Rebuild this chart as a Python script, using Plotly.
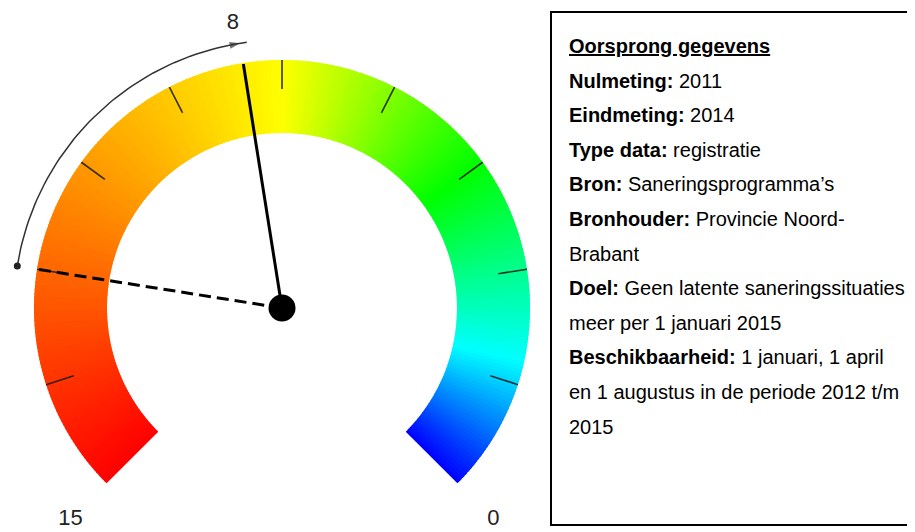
import numpy as np
import plotly.graph_objects as go
import colorsys

# ---------------- data ----------------
scale_min = 0
scale_max = 15
current_value = 8          # solid needle
start_value = 12           # dashed needle (nulmeting)
tick_values = [1.5, 3, 4.5, 6, 7.5, 9, 10.5, 12, 13.5]
end_labels = ["15", "0"]
end_label_values = [15, 0]
value_label = "8"

# colour stops along the scale (value -> hue in degrees)
color_stop_values = [0, 1.8, 4.5, 7.5, 15]
color_stop_hues = [240, 180, 120, 60, 0]

info_lines = [
    "<u><b>Oorsprong gegevens</b></u>",
    "<b>Nulmeting:</b> 2011",
    "<b>Eindmeting:</b> 2014",
    "<b>Type data:</b> registratie",
    "<b>Bron:</b> Saneringsprogramma\u2019s",
    "<b>Bronhouder:</b> Provincie Noord-",
    "Brabant",
    "<b>Doel:</b> Geen latente saneringssituaties",
    "meer per 1 januari 2015",
    "<b>Beschikbaarheid:</b> 1 januari, 1 april",
    "en 1 augustus in de periode 2012 t/m",
    "2015",
]

# ---------------- geometry / style ----------------
OFF = 8                    # page body margin
W, H = 915 - OFF, 532 - OFF
CX, CY = 282, 308          # gauge centre in reference pixels
R_OUT, R_IN = 248, 175
TICK_R0, TICK_R1 = 219, 248
ARROW_R = 268
START_ANGLE, END_ANGLE = 225, -45   # angle of scale_max and scale_min


def px(X):
    return (X - OFF) / W


def py(Y):
    return 1 - (Y - OFF) / H


def ang(v):
    return np.radians(END_ANGLE + (v - scale_min) / (scale_max - scale_min) * (START_ANGLE - END_ANGLE))


def pt(v, r):
    a = ang(v)
    return r * np.cos(a), r * np.sin(a)


def color_of(v):
    h = np.interp(v, color_stop_values, color_stop_hues) / 360.0
    r, g, b = colorsys.hsv_to_rgb(h, 1, 1)
    return "rgb(%d,%d,%d)" % (round(r * 255), round(g * 255), round(b * 255))


fig = go.Figure()
shapes = []

# gradient band
N = 300
step = (scale_max - scale_min) / N
for i in range(N):
    v0 = scale_min + i * step
    v1 = min(scale_max, v0 + step * 1.6)
    vm = v0 + step / 2
    xs, ys = [], []
    for v in np.linspace(v0, v1, 3):
        x, y = pt(v, R_OUT); xs.append(x); ys.append(y)
    for v in np.linspace(v1, v0, 3):
        x, y = pt(v, R_IN); xs.append(x); ys.append(y)
    path = "M " + " L ".join("%.3f,%.3f" % (a, b) for a, b in zip(xs, ys)) + " Z"
    shapes.append(dict(type="path", path=path, xref="x", yref="y",
                       fillcolor=color_of(vm), line=dict(width=0), layer="below"))

# ticks
tx, ty = [], []
for v in tick_values:
    x0, y0 = pt(v, TICK_R0); x1, y1 = pt(v, TICK_R1)
    tx += [x0, x1, None]; ty += [y0, y1, None]
fig.add_trace(go.Scatter(x=tx, y=ty, mode="lines",
                         line=dict(color="rgba(30,30,30,0.9)", width=1.6),
                         hoverinfo="skip", showlegend=False))

# dashed needle (start value)
x1, y1 = pt(start_value, R_OUT)
fig.add_trace(go.Scatter(x=[0, x1], y=[0, y1], mode="lines",
                         line=dict(color="black", width=3, dash="12px,6px"),
                         hoverinfo="skip", showlegend=False))

# solid needle (current value)
x1, y1 = pt(current_value, R_OUT - 1)
fig.add_trace(go.Scatter(x=[0, x1], y=[0, y1], mode="lines",
                         line=dict(color="black", width=3),
                         hoverinfo="skip", showlegend=False))

# hub
fig.add_trace(go.Scatter(x=[0], y=[0], mode="markers",
                         marker=dict(color="black", size=27),
                         hoverinfo="skip", showlegend=False))

# arrow arc from start to current value
vals = np.linspace(start_value, current_value - 0.08, 60)
ax_, ay_ = pt(vals, ARROW_R)
fig.add_trace(go.Scatter(x=ax_, y=ay_, mode="lines",
                         line=dict(color="#333333", width=1.5),
                         hoverinfo="skip", showlegend=False))
# start dot
sx, sy = pt(start_value, ARROW_R)
fig.add_trace(go.Scatter(x=[sx], y=[sy], mode="markers",
                         marker=dict(size=7, color="#222222"),
                         hoverinfo="skip", showlegend=False))
# arrow head
hv = [current_value + 0.25, current_value]
hx, hy = pt(np.array(hv), ARROW_R)
fig.add_trace(go.Scatter(x=hx, y=hy, mode="markers",
                         marker=dict(size=[0, 11], symbol="arrow", color="#333333",
                                     angleref="previous", line=dict(width=0)),
                         hoverinfo="skip", showlegend=False))

# labels
lx, ly = [], []
for v in end_label_values:
    x, y = pt(v, 299); lx.append(x); ly.append(y)
x, y = pt(current_value, 288)
lx.append(x - 4); ly.append(y)
fig.add_trace(go.Scatter(x=lx, y=ly, mode="text", text=end_labels + [value_label],
                         textfont=dict(family="Liberation Sans Narrow, Liberation Sans, Arial",
                                       size=22, color="#222222"),
                         textposition="middle center",
                         hoverinfo="skip", showlegend=False))

# info box
shapes.append(dict(type="rect", xref="paper", yref="paper",
                   x0=px(551), x1=1.05, y0=py(525), y1=py(12),
                   line=dict(color="black", width=2), fillcolor="rgba(0,0,0,0)"))

annotations = []
y0 = 46
dy = 34.6
for i, line in enumerate(info_lines):
    annotations.append(dict(text=line, xref="paper", yref="paper",
                            x=px(567), y=py(y0 + i * dy),
                            xanchor="left", yanchor="middle", showarrow=False,
                            font=dict(family="Liberation Sans, Arial", size=20, color="black")))

fig.update_layout(
    width=W, height=H, autosize=False,
    margin=dict(l=0, r=0, t=0, b=0),
    paper_bgcolor="white", plot_bgcolor="white",
    xaxis=dict(range=[OFF - CX, OFF - CX + W], visible=False, fixedrange=True),
    yaxis=dict(range=[CY - 532, CY - OFF], visible=False, fixedrange=True),
    shapes=shapes, annotations=annotations,
)

fig.write_html("out.html")
